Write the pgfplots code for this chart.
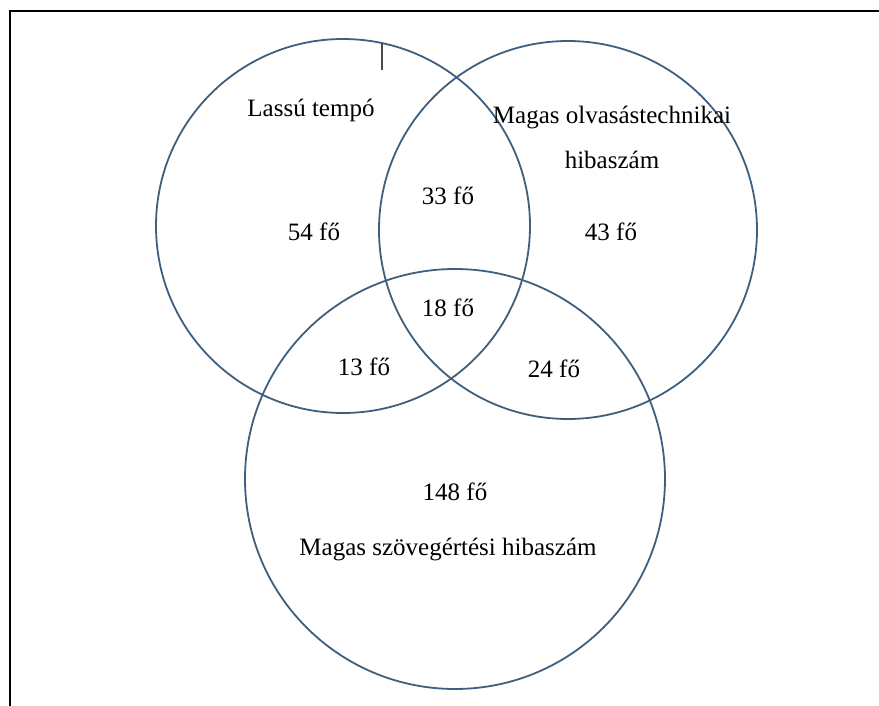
\documentclass[border=0pt]{standalone}
\usepackage{pgfplots}
\pgfplotsset{compat=1.18}
\usepackage{fontspec}
\setmainfont{Liberation Serif}
\definecolor{venn}{HTML}{3E5F7E}
\begin{document}
\begin{tikzpicture}
\begin{axis}[
  scale only axis, width=439.5pt, height=353pt,
  xmin=0, xmax=879, ymin=0, ymax=706, y dir=reverse,
  hide axis, clip=false,
  nodes={font=\fontsize{12.5}{15}\selectfont, inner sep=0pt}
]
% frame
\draw[black, line width=1.4pt] (axis cs:10,706) -- (axis cs:10,11) -- (axis cs:879,11);
% circles (centre x, centre y, radius in px)
\draw[venn, line width=0.9pt] (axis cs:343,226) circle [radius=187];
\draw[venn, line width=0.9pt] (axis cs:568,230) circle [radius=189];
\draw[venn, line width=0.9pt] (axis cs:455,479) circle [radius=210];
% small stray mark
\draw[black!70, line width=0.6pt] (axis cs:382,43) -- (axis cs:382,70);
% labels
\node at (axis cs:311,110) {Lassú tempó};
\node at (axis cs:612,118) {Magas olvasástechnikai};
\node at (axis cs:612,160) {hibaszám};
\node at (axis cs:448,196) {33 fő};
\node at (axis cs:314,232) {54 fő};
\node at (axis cs:611,232) {43 fő};
\node at (axis cs:448,308) {18 fő};
\node at (axis cs:364,367) {13 fő};
\node at (axis cs:554,369) {24 fő};
\node at (axis cs:455,492) {148 fő};
\node at (axis cs:448,550) {Magas szövegértési hibaszám};
\end{axis}
\pgfresetboundingbox
\path (current axis.south west) rectangle (current axis.north east);
\end{tikzpicture}
\end{document}
